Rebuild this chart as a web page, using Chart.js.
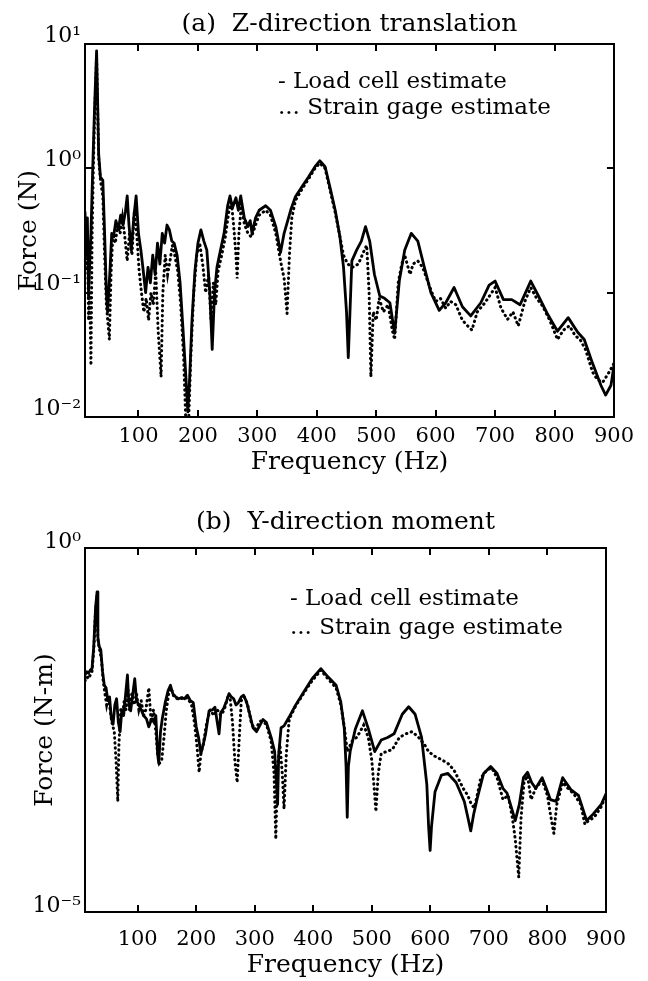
<!DOCTYPE html>
<html><head><meta charset="utf-8">
<script src="https://cdn.jsdelivr.net/npm/chart.js@4"></script>
<style>
html,body{margin:0;padding:0;background:#fff;}
#w1{position:absolute;left:0;top:0;width:648px;height:478px;}
#w2{position:absolute;left:0;top:478px;width:648px;height:503px;}
</style></head><body>
<div id="w1"><canvas id="c1"></canvas></div>
<div id="w2"><canvas id="c2"></canvas></div>
<script>
// ---- data ----
const freqTicks = [100,200,300,400,500,600,700,800,900];
const yTicksA = [0.01,0.1,1,10];
const yTicksB = [0.00001,1];

// (a) Z-direction translation, load cell (solid)
const aLoadHz = [10,12,14,16,18,20,23,26,29.5,31,33,36,40,43,46,48,52,55,58,62,66,70,74,78,81,84,88,92,96,100,104,108,112,116,120,124,128,132,136,140,144,148,152,156,160,165,170,175,180,183,186,190,195,200,205,210,215,220,224,228,232,238,244,250,254,258,264,268,272,278,284,288,291,297,303,314,322,331,339,345,356,364,375,386,397,405,414,422,431,439,445,450,453,459,467,475,482,489,497,506,514,523,531,539,548,559,570,581,592,606,617,631,645,659,676,690,700,714,728,742,760,773,787,805,823,839,850,864,878,886,895,900];
const aLoadN = [0.45,0.2,0.4,0.09,0.18,0.3,1.0,3.0,8.8,4.0,1.3,0.85,0.8,0.3,0.1,0.07,0.15,0.3,0.28,0.38,0.32,0.42,0.35,0.45,0.6,0.35,0.22,0.4,0.6,0.3,0.22,0.15,0.1,0.16,0.12,0.2,0.14,0.25,0.17,0.3,0.25,0.35,0.32,0.26,0.25,0.2,0.12,0.05,0.02,0.011,0.02,0.06,0.15,0.25,0.32,0.26,0.22,0.1,0.035,0.1,0.16,0.22,0.3,0.5,0.6,0.48,0.58,0.46,0.6,0.4,0.34,0.38,0.3,0.4,0.46,0.5,0.46,0.34,0.21,0.3,0.46,0.59,0.71,0.85,1.03,1.15,1.03,0.71,0.46,0.28,0.16,0.07,0.03,0.18,0.22,0.26,0.34,0.26,0.14,0.094,0.09,0.083,0.047,0.126,0.22,0.3,0.26,0.16,0.1,0.072,0.083,0.11,0.077,0.065,0.083,0.115,0.124,0.088,0.088,0.08,0.124,0.094,0.069,0.049,0.063,0.048,0.042,0.027,0.018,0.015,0.018,0.026];
// (a) strain gage (dotted)
const aGageHz = [10,12,14,16,18,20,22,24,26,29.5,31,33,36,40,43,46,51,54,57,61,65,69,73,77,81,85,89,93,97,101,105,109,113,117,121,125,129,133,138,141,145,149,153,157,161,166,171,176,180,184,188,193,198,203,208,213,218,222,226,230,234,240,246,252,256,260,264,266,269,273,278,284,290,297,303,314,322,331,339,345,350,354,358,364,375,386,397,405,414,422,431,439,445,452,460,470,480,484,488,491,495,500,505,512,520,527,531,537,543,548,552,557,562,570,578,585,592,600,608,617,625,634,645,654,661,670,683,700,710,721,730,739,750,760,770,780,792,805,815,825,835,843,852,864,872,881,892,900];
const aGageN = [0.4,0.15,0.3,0.06,0.1,0.026,0.3,1.0,2.5,8.0,3.5,1.2,0.8,0.6,0.2,0.08,0.042,0.15,0.3,0.25,0.35,0.3,0.4,0.28,0.18,0.3,0.2,0.45,0.3,0.15,0.1,0.07,0.09,0.06,0.1,0.08,0.15,0.05,0.021,0.1,0.2,0.14,0.18,0.24,0.2,0.15,0.08,0.03,0.008,0.008,0.03,0.1,0.2,0.25,0.17,0.1,0.14,0.06,0.12,0.08,0.15,0.2,0.28,0.45,0.55,0.35,0.2,0.13,0.3,0.5,0.36,0.3,0.28,0.35,0.42,0.46,0.42,0.3,0.18,0.13,0.068,0.2,0.4,0.55,0.68,0.82,1.0,1.1,1.0,0.68,0.44,0.28,0.2,0.17,0.16,0.17,0.22,0.24,0.1,0.021,0.07,0.06,0.09,0.07,0.08,0.05,0.042,0.12,0.17,0.2,0.17,0.14,0.17,0.18,0.16,0.13,0.105,0.085,0.09,0.075,0.085,0.08,0.06,0.054,0.05,0.07,0.083,0.11,0.075,0.061,0.07,0.054,0.085,0.11,0.09,0.078,0.06,0.042,0.05,0.054,0.045,0.042,0.035,0.023,0.02,0.019,0.023,0.027];

// (b) Y-direction moment, load cell (solid)
const bLoadHz = [10,13,16,19,22,25,28,30.6,32,34,37,40,43,46,49,52,55,58,61,64,67,70,73,76,79,82.5,85,88,91,95,98,102,106,110,115,119,124,128,131,134,136,139,142,147,152,156,160,165,170,175,180,185,190,195,200,204,208,212,216,222,228,232,236,239,242,247,252,256,260,264,268,272,277,281,286,292,297,303,314,320,328,334,337,339,341,345,350,359,370,384,398,413,425,439,447,453,456,458,460,463,472,484,494,505,516,527,538,552,563,574,585,594,597,599.6,602,608,619,630,644,658,664,669,674,680,691,703,714,724,731,738,745,752,759,766,773,780,791,798,805,815,826,840,853,867,878,892,900];
const bLoadNm = [0.018,0.02,0.019,0.021,0.022,0.045,0.15,0.25,0.06,0.045,0.04,0.02,0.013,0.012,0.008,0.009,0.0045,0.0038,0.007,0.0085,0.004,0.003,0.006,0.005,0.009,0.018,0.007,0.0058,0.009,0.016,0.008,0.007,0.006,0.005,0.0045,0.0035,0.0045,0.004,0.005,0.0015,0.0011,0.003,0.0045,0.0075,0.011,0.013,0.01,0.009,0.0085,0.0088,0.0085,0.0095,0.008,0.0075,0.0035,0.0025,0.0015,0.002,0.0028,0.0058,0.006,0.0065,0.004,0.0028,0.0055,0.0063,0.008,0.01,0.009,0.0085,0.007,0.0075,0.009,0.0095,0.0077,0.005,0.0034,0.003,0.0044,0.004,0.0025,0.0016,0.0006,0.0003,0.0015,0.0034,0.0036,0.0048,0.007,0.0106,0.016,0.022,0.017,0.013,0.0077,0.0033,0.001,0.0002,0.001,0.0016,0.0033,0.0058,0.0033,0.0016,0.0023,0.0025,0.0028,0.0052,0.0066,0.0052,0.0025,0.00056,0.00015,0.00007,0.00015,0.00045,0.00076,0.0008,0.0006,0.00033,0.0002,0.00013,0.00022,0.00036,0.0008,0.001,0.0008,0.0005,0.00043,0.00028,0.00018,0.0003,0.0007,0.00083,0.0006,0.0005,0.0007,0.0005,0.00035,0.00033,0.0007,0.00048,0.0004,0.00018,0.00022,0.0003,0.00042];
// (b) strain gage (dotted)
const bGageHz = [10,13,16,19,22,25,28,30.6,32,35,38,41,44,47,50,53,56,60,63,66,68,71,74,77,80,83,86,90,94,98,102,106,110,114,119,123,127,131,134,137,141,145,149,153,157,162,168,174,180,186,192,197,201,205,208,212,218,224,230,236,242,248,254,258,262,266,270,273,277,282,288,294,300,310,320,328,333,336,339,343,347,350,354,359,370,384,398,413,425,439,447,453,458,466,474,480,486,494,500,504,507,511,516,525,535,547,558,569,580,590,597,606,614,622,630,640,647,656,664,670,675,680,686,697,705,714,724,733,740,745,751,755,760,766,772,780,791,800,806,811,816,826,835,845,857,864,870,880,892,900];
const bGageNm = [0.015,0.017,0.016,0.018,0.02,0.04,0.13,0.22,0.055,0.04,0.03,0.015,0.01,0.007,0.009,0.006,0.004,0.003,0.0012,0.00033,0.002,0.006,0.005,0.008,0.006,0.012,0.006,0.01,0.007,0.01,0.006,0.008,0.005,0.006,0.012,0.004,0.006,0.003,0.0015,0.0011,0.0012,0.0025,0.006,0.01,0.012,0.009,0.0085,0.0085,0.009,0.0085,0.007,0.004,0.002,0.00083,0.0015,0.002,0.004,0.006,0.005,0.006,0.005,0.006,0.009,0.0085,0.004,0.0012,0.0006,0.002,0.008,0.009,0.007,0.004,0.0032,0.0042,0.0038,0.0022,0.0008,0.0001,0.001,0.002,0.0008,0.00026,0.0015,0.0045,0.0068,0.0102,0.015,0.021,0.016,0.012,0.007,0.0035,0.0016,0.0022,0.0025,0.003,0.0037,0.0025,0.0012,0.0005,0.00024,0.0008,0.0015,0.0016,0.0017,0.0025,0.0028,0.003,0.0025,0.002,0.0016,0.0014,0.0013,0.0012,0.0011,0.0009,0.0007,0.0005,0.0004,0.0003,0.00027,0.0004,0.00069,0.0009,0.00095,0.0007,0.00035,0.0004,0.0002,0.0001,0.00003,0.0002,0.0006,0.00075,0.00035,0.0005,0.00065,0.0004,0.0002,0.00012,0.0003,0.0006,0.0005,0.00042,0.0003,0.00016,0.00018,0.0002,0.00028,0.0004];

const legendLines = ['- Load cell estimate', '... Strain gage estimate'];

// ---- rendering ----
const FONT = "'DejaVu Serif', serif";
Chart.defaults.font.family = FONT;
Chart.defaults.color = '#000';

const SUP = {'-':'\u207B','0':'\u2070','1':'\u00B9','2':'\u00B2','3':'\u00B3','4':'\u2074','5':'\u2075'};
function decadeLabel(v){
  const e = Math.round(Math.log10(v));
  return '10' + String(e).split('').map(c => SUP[c]).join('');
}
function pts(xs, ys){ return xs.map((x, i) => ({x: x, y: ys[i]})); }

const legendText = {
  id: 'legendText',
  afterDraw(chart, args, o){
    const ctx = chart.ctx, a = chart.chartArea;
    ctx.save();
    ctx.font = o.size + 'px ' + FONT;
    ctx.fillStyle = '#000';
    ctx.textBaseline = 'middle';
    ctx.textAlign = 'left';
    o.lines.forEach((t, i) => ctx.fillText(t, a.left + o.dx, a.top + o.dy + i * o.gap));
    ctx.restore();
  }
};

function frameGrid(){ return {drawOnChartArea:false, tickLength:-7, color:'#000', lineWidth:2}; }
function frameBorder(){ return {display:true, color:'#000', width:2}; }

function build(id, p){
  return new Chart(document.getElementById(id), {
    type: 'line',
    data: { datasets: [
      { label:'Strain gage estimate', data: pts(p.gx, p.gy), borderColor:'#000', borderWidth:3,
        borderDash:[0.5,4.5], borderCapStyle:'round', pointRadius:0, tension:0, fill:false },
      { label:'Load cell estimate', data: pts(p.lx, p.ly), borderColor:'#000', borderWidth:2.8,
        pointRadius:0, tension:0, fill:false, borderJoinStyle:'round' }
    ]},
    options: {
      responsive:true, maintainAspectRatio:false, animation:false,
      layout: { padding: {left:0, right:31, top:0, bottom:0} },
      plugins: {
        legend: {display:false}, tooltip: {enabled:false},
        title: { display:true, text:p.title, color:'#000', font:{size:25, weight:'normal'},
                 padding:p.titlePad, fullSize:false },
        legendText: { lines: legendLines, dx:p.legDx, dy:p.legDy, gap:p.legGap, size:23 }
      },
      scales: {
        x: { type:'linear', position:'bottom', min:10, max:900,
             afterBuildTicks: s => { s.ticks = freqTicks.map(v => ({value:v})); },
             ticks: { callback: v => String(v), font:{size:21}, padding:p.xTickPad, maxRotation:0, autoSkip:false },
             grid: frameGrid(), border: frameBorder(),
             title: { display:true, text:'Frequency (Hz)', font:{size:25}, padding:{top:0, bottom:p.xTitlePadB} },
             afterFit: s => { s.height = p.xAxisH; } },
        x2: { type:'linear', position:'top', min:10, max:900,
             afterBuildTicks: s => { s.ticks = freqTicks.map(v => ({value:v})); },
             ticks: { display:false }, grid: frameGrid(), border: frameBorder(),
             afterFit: s => { s.height = 0; } },
        y: { type:'logarithmic', position:'left', min:p.ymin, max:p.ymax,
             afterBuildTicks: s => { s.ticks = p.yTicks.map(v => ({value:v})); },
             ticks: { callback: v => decadeLabel(v), font:{size:22}, padding:11, labelOffset:p.yLabelOffset, autoSkip:false },
             grid: frameGrid(), border: frameBorder(),
             title: { display:true, text:p.ytitle, font:{size:25}, padding:{top:p.yTitlePadT, bottom:0} },
             afterFit: s => { s.width = 85; } },
        y2: { type:'logarithmic', position:'right', min:p.ymin, max:p.ymax,
             afterBuildTicks: s => { s.ticks = p.yTicks.map(v => ({value:v})); },
             ticks: { display:false }, grid: frameGrid(), border: frameBorder(),
             afterFit: s => { s.width = 0; } }
      }
    },
    plugins: [legendText]
  });
}

build('c1', {
  lx:aLoadHz, ly:aLoadN, gx:aGageHz, gy:aGageN,
  title:'(a)  Z-direction translation', titlePad:{top:9, bottom:5},
  ymin:0.01, ymax:10, yTicks:yTicksA, yLabelOffset:-8,
  ytitle:'Force (N)', yTitlePadT:14,
  xAxisH:61, xTickPad:14, xTitlePadB:1,
  legDx:193, legDy:38, legGap:26
});
build('c2', {
  lx:bLoadHz, ly:bLoadNm, gx:bGageHz, gy:bGageNm,
  title:'(b)  Y-direction moment', titlePad:{top:29, bottom:11},
  ymin:0.00001, ymax:1, yTicks:yTicksB, yLabelOffset:-6,
  ytitle:'Force (N-m)', yTitlePadT:30,
  xAxisH:69, xTickPad:22, xTitlePadB:1,
  legDx:205, legDy:51, legGap:29
});
</script>
</body></html>
